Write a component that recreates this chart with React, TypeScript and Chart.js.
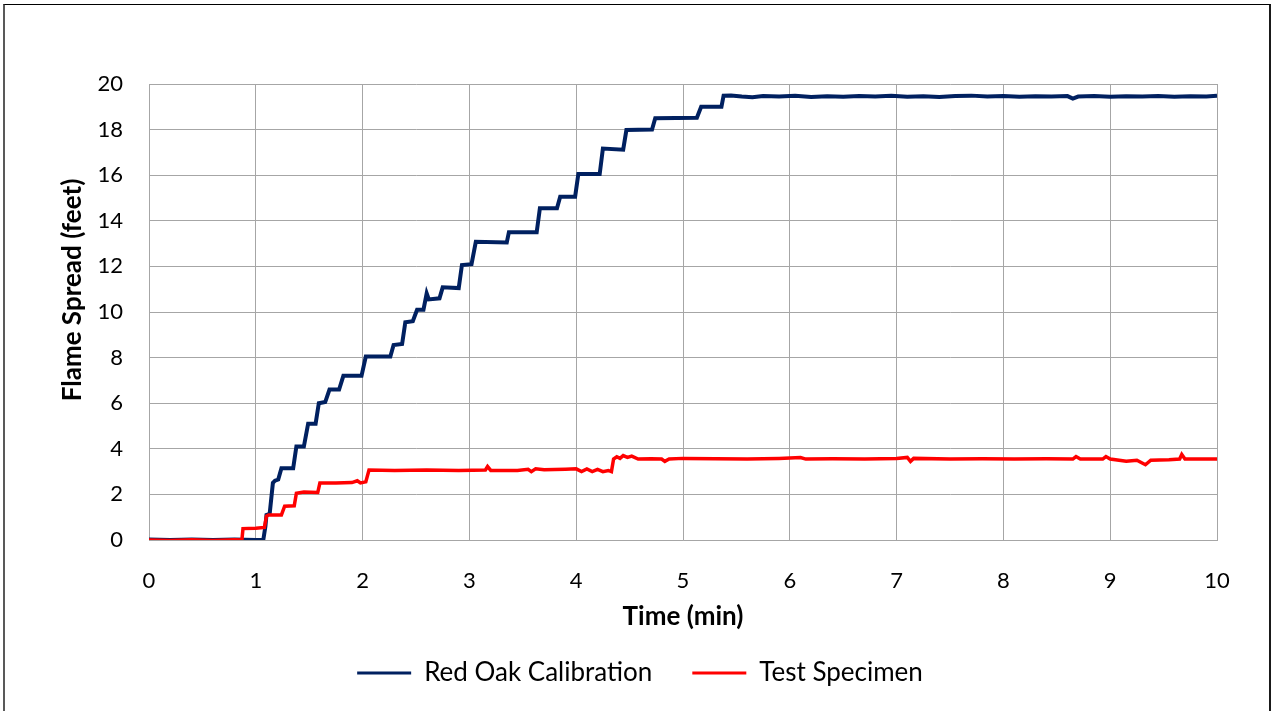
import React, { useEffect, useRef } from "react";
import { Chart, registerables } from "chart.js";

Chart.register(...registerables);

const seriesNames = ["Red Oak Calibration", "Test Specimen"];
const xTitle = "Time (min)";
const yTitle = "Flame Spread (feet)";
const xTickValues = [0, 1, 2, 3, 4, 5, 6, 7, 8, 9, 10];
const yTickValues = [0, 2, 4, 6, 8, 10, 12, 14, 16, 18, 20];

const blueTimes = [
  0, 0.2, 0.4, 0.6, 0.8, 1.0, 1.07, 1.09, 1.1, 1.13, 1.16, 1.18, 1.21, 1.24, 1.35,
  1.38, 1.45, 1.49, 1.56, 1.59, 1.65, 1.69, 1.78, 1.82, 1.99, 2.03, 2.26, 2.29, 2.37,
  2.4, 2.47, 2.51, 2.57, 2.6, 2.62, 2.72, 2.75, 2.9, 2.93, 3.02, 3.06, 3.35, 3.37,
  3.63, 3.66, 3.82, 3.85, 3.99, 4.02, 4.22, 4.25, 4.44, 4.47, 4.71, 4.74, 5.13, 5.17,
  5.36, 5.38, 5.45, 5.55, 5.65, 5.75, 5.9, 6.05, 6.2, 6.35, 6.5, 6.65, 6.8, 6.95,
  7.1, 7.25, 7.4, 7.55, 7.7, 7.85, 8.0, 8.15, 8.3, 8.45, 8.6, 8.65, 8.7, 8.85, 9.0,
  9.15, 9.3, 9.45, 9.6, 9.75, 9.9, 10,
];
const blueValues = [
  0.02, 0.0, 0.02, 0.0, 0.02, 0.0, 0.0, 0.6, 1.1, 1.15, 2.5, 2.6, 2.65, 3.15, 3.15,
  4.1, 4.1, 5.1, 5.1, 6.0, 6.05, 6.6, 6.6, 7.2, 7.2, 8.05, 8.05, 8.55, 8.6,
  9.55, 9.6, 10.1, 10.1, 10.82, 10.55, 10.6, 11.08, 11.05, 12.06, 12.1, 13.08, 13.05, 13.5,
  13.5, 14.55, 14.55, 15.06, 15.06, 16.05, 16.05, 17.17, 17.12, 17.98, 18.0, 18.5, 18.52, 19.0,
  19.0, 19.49, 19.5, 19.45, 19.42, 19.47, 19.45, 19.48, 19.43, 19.46, 19.44, 19.47, 19.45, 19.48,
  19.44, 19.46, 19.43, 19.47, 19.49, 19.45, 19.47, 19.44, 19.46, 19.45, 19.47, 19.36, 19.45, 19.47, 19.44,
  19.46, 19.45, 19.47, 19.44, 19.46, 19.45, 19.48,
];

const redTimes = [
  0, 0.2, 0.4, 0.6, 0.8, 0.87, 0.88, 1.0, 1.08, 1.1, 1.12, 1.24, 1.27, 1.36, 1.38,
  1.45, 1.58, 1.6, 1.75, 1.9, 1.95, 1.98, 2.03, 2.06, 2.3, 2.6, 2.9, 3.15, 3.17,
  3.2, 3.45, 3.55, 3.58, 3.62, 3.7, 3.9, 4.0, 4.05, 4.1, 4.15, 4.2, 4.25, 4.3, 4.33,
  4.35, 4.38, 4.41, 4.44, 4.48, 4.52, 4.58, 4.7, 4.8, 4.83, 4.87, 5.0, 5.3, 5.6, 5.9,
  6.1, 6.15, 6.4, 6.7, 7.0, 7.1, 7.13, 7.16, 7.5, 7.8, 8.1, 8.4, 8.65, 8.68, 8.72,
  8.93, 8.96, 9.0, 9.15, 9.25, 9.33, 9.38, 9.55, 9.65, 9.67, 9.7, 10,
];
const redValues = [
  0.0, -0.02, 0.01, -0.02, 0.01, 0.0, 0.5, 0.52, 0.55, 1.05, 1.1, 1.1, 1.48, 1.5, 2.05,
  2.1, 2.08, 2.5, 2.5, 2.52, 2.6, 2.5, 2.55, 3.07, 3.05, 3.07, 3.05, 3.07, 3.22,
  3.05, 3.05, 3.1, 3.0, 3.12, 3.08, 3.1, 3.12, 3.0, 3.12, 3.0, 3.1, 3.0, 3.05, 3.0,
  3.55, 3.65, 3.58, 3.7, 3.62, 3.68, 3.55, 3.56, 3.55, 3.45, 3.55, 3.58, 3.56, 3.55, 3.58,
  3.62, 3.55, 3.56, 3.55, 3.57, 3.62, 3.45, 3.58, 3.55, 3.56, 3.55, 3.56, 3.55, 3.66, 3.55,
  3.55, 3.66, 3.55, 3.45, 3.5, 3.3, 3.5, 3.52, 3.55, 3.75, 3.55, 3.55,
];

const blueColor = "#002060";
const redColor = "#FF0000";
const gridColor = "#A6A6A6";
const textColor = "#000000";
const FONT = "Lato, 'Noto Sans', sans-serif";

const toPoints = (xs: number[], ys: number[]) => xs.map((x, i) => ({ x, y: ys[i] }));

const axisTitlePlugin = {
  id: "axisTitlePlugin",
  afterDraw(chart: any) {
    const { ctx, chartArea } = chart;
    ctx.save();
    ctx.fillStyle = textColor;
    ctx.font = `bold 26px ${FONT}`;
    ctx.textAlign = "center";
    ctx.textBaseline = "middle";
    ctx.fillText(xTitle, (chartArea.left + chartArea.right) / 2, chartArea.bottom + 77);
    ctx.translate(chartArea.left - 76, chartArea.top + 206);
    ctx.rotate(-Math.PI / 2);
    ctx.fillText(yTitle, 0, 0);
    ctx.restore();
  },
};

export default function App() {
  const canvasRef = useRef<HTMLCanvasElement | null>(null);

  useEffect(() => {
    const canvas = canvasRef.current;
    if (!canvas) return;
    const chart = new Chart(canvas, {
      type: "line",
      data: {
        datasets: [
          {
            label: seriesNames[0],
            data: toPoints(blueTimes, blueValues),
            borderColor: blueColor,
            backgroundColor: blueColor,
            borderWidth: 4,
            pointRadius: 0,
            tension: 0,
            order: 1,
          },
          {
            label: seriesNames[1],
            data: toPoints(redTimes, redValues),
            borderColor: redColor,
            backgroundColor: redColor,
            borderWidth: 3.5,
            pointRadius: 0,
            tension: 0,
            order: 0,
          },
        ],
      },
      options: {
        animation: false,
        responsive: false,
        devicePixelRatio: 1,
        layout: { padding: { left: 63, right: 55, top: 84, bottom: 15 } },
        scales: {
          x: {
            type: "linear",
            min: 0,
            max: 10,
            afterBuildTicks: (scale: any) => {
              scale.ticks = xTickValues.map((v) => ({ value: v }));
            },
            afterFit: (scale: any) => {
              scale.height = 80;
            },
            grid: { color: gridColor, lineWidth: 1, drawTicks: false },
            border: { color: gridColor, width: 1 },
            ticks: {
              color: textColor,
              padding: 28,
              font: { family: FONT, size: 22 },
              maxRotation: 0,
            },
          },
          y: {
            min: 0,
            max: 20,
            afterBuildTicks: (scale: any) => {
              scale.ticks = yTickValues.map((v) => ({ value: v }));
            },
            afterFit: (scale: any) => {
              scale.width = 86;
            },
            grid: { color: gridColor, lineWidth: 1, drawTicks: false },
            border: { color: gridColor, width: 1 },
            ticks: {
              color: textColor,
              padding: 26,
              font: { family: FONT, size: 22 },
            },
          },
        },
        plugins: {
          legend: {
            position: "bottom",
            labels: {
              color: textColor,
              font: { family: FONT, size: 26 },
              boxWidth: 54,
              boxHeight: 3,
              padding: 40,
              sort: (a: any, b: any) => a.datasetIndex - b.datasetIndex,
              generateLabels: (chart: any) =>
                Chart.defaults.plugins.legend.labels
                  .generateLabels(chart)
                  .map((item: any) => ({ ...item, lineWidth: 0, fillStyle: item.strokeStyle })),
            },
          },
          tooltip: { enabled: false },
        },
      },
      plugins: [axisTitlePlugin],
    });
    return () => chart.destroy();
  }, []);

  return (
    <div style={{ position: "absolute", left: 0, top: 0, width: 1272, height: 711, overflow: "hidden", background: "#fff" }}>
      <div
        style={{
          position: "absolute",
          left: 3,
          top: 4,
          width: 1268,
          height: 760,
          boxSizing: "border-box",
          borderTop: "1px solid #000",
          borderLeft: "2px solid #595959",
          borderRight: "2px solid #1a1a1a",
        }}
      />
      <canvas ref={canvasRef} width={1272} height={711} style={{ position: "absolute", left: 0, top: 0 }} />
    </div>
  );
}
